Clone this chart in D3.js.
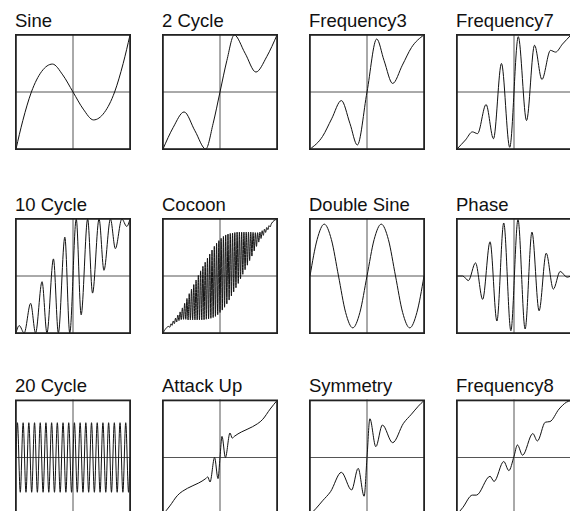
<!DOCTYPE html>
<html>
<head>
<meta charset="utf-8">
<script src="https://cdn.jsdelivr.net/npm/d3@7/dist/d3.min.js"></script>
<style>
  body { margin: 0; background: #fff; }
</style>
</head>
<body>
<div id="chart"></div>
<script>
// Panel titles, in reading order (3 rows of 4).
let titles = ["Sine", "2 Cycle", "Frequency3", "Frequency7",
              "10 Cycle", "Cocoon", "Double Sine", "Phase",
              "20 Cycle", "Attack Up", "Symmetry", "Frequency8"];

// Transfer curves: input x and output y, both -1..1.
let sineX = [-1, -0.88, -0.73, -0.55, -0.36, -0.18, 0, 0.18, 0.36, 0.55, 0.73, 0.88, 1];
let sineY = [-1, -0.5, 0, 0.36, 0.49, 0.3, 0, -0.3, -0.49, -0.36, 0, 0.5, 1];

let twoCycleX = [-1, -0.82, -0.63, -0.44, -0.25, -0.12, 0, 0.12, 0.25, 0.44, 0.63, 0.82, 1];
let twoCycleY = [-1, -0.62, -0.35, -0.68, -1, -0.55, 0, 0.55, 1, 0.68, 0.35, 0.62, 1];

let freq3X = [-1, -0.78, -0.62, -0.45, -0.3, -0.17, 0, 0.17, 0.3, 0.45, 0.62, 0.78, 1];
let freq3Y = [-1, -0.78, -0.47, -0.15, -0.55, -0.93, 0, 0.93, 0.55, 0.15, 0.47, 0.78, 1];

let freq7X = [-1, -0.85, -0.73, -0.64, -0.49, -0.36, -0.22, -0.075, 0.075, 0.22, 0.36, 0.49, 0.64, 0.73, 0.85, 1];
let freq7Y = [-1, -0.84, -0.7, -0.73, -0.22, -0.82, 0.5, -0.97, 0.97, -0.5, 0.82, 0.22, 0.73, 0.7, 0.84, 1];

let tenCycleX = [-1, -0.943, -0.857, -0.743, -0.657, -0.543, -0.457, -0.343, -0.257, -0.143, -0.057,
                 0.057, 0.143, 0.257, 0.343, 0.457, 0.543, 0.657, 0.743, 0.857, 0.943, 1];
let tenCycleY = [-1, -0.87, -1, -0.48, -1, -0.1, -1, 0.3, -1, 0.68, -1,
                 1, -0.68, 1, -0.3, 1, 0.1, 1, 0.48, 1, 0.87, 1];

// Cocoon: alternating upper and lower turning points of the dense ripple.
let cocoonX = [-1,
  -0.9, -0.88, -0.86, -0.84, -0.82, -0.8, -0.78, -0.76, -0.74, -0.72,
  -0.7, -0.68, -0.66, -0.64, -0.62, -0.6, -0.58, -0.56, -0.54, -0.52,
  -0.5, -0.48, -0.46, -0.44, -0.42, -0.4, -0.38, -0.36, -0.34, -0.32,
  -0.3, -0.28, -0.26, -0.24, -0.22, -0.2, -0.18, -0.16, -0.14, -0.12,
  -0.1, -0.08, -0.06, -0.04, -0.02, 0, 0.02, 0.04, 0.06, 0.08,
  0.1, 0.12, 0.14, 0.16, 0.18, 0.2, 0.22, 0.24, 0.26, 0.28,
  0.3, 0.32, 0.34, 0.36, 0.38, 0.4, 0.42, 0.44, 0.46, 0.48,
  0.5, 0.52, 0.54, 0.56, 0.58, 0.6, 0.62, 0.64, 0.66, 0.68,
  0.7, 0.72, 0.74, 0.76, 0.78, 0.8, 0.82, 0.84, 0.86, 0.88,
  0.9,
  1];
let cocoonY = [-1,
  -0.885, -0.899, -0.837, -0.867, -0.789, -0.835, -0.739, -0.807, -0.686, -0.782,
  -0.63, -0.765, -0.56, -0.76, -0.48, -0.76, -0.395, -0.77, -0.31, -0.77,
  -0.23, -0.77, -0.15, -0.77, -0.07, -0.77, 0.01, -0.77, 0.09, -0.77,
  0.17, -0.766, 0.242, -0.758, 0.314, -0.75, 0.386, -0.742, 0.456, -0.728,
  0.52, -0.708, 0.574, -0.678, 0.62, -0.64, 0.66, -0.598, 0.694, -0.548,
  0.72, -0.488, 0.736, -0.422, 0.746, -0.35, 0.754, -0.278, 0.762, -0.206,
  0.77, -0.13, 0.77, -0.05, 0.77, 0.03, 0.77, 0.11, 0.77, 0.19,
  0.77, 0.27, 0.77, 0.35, 0.765, 0.44, 0.76, 0.52, 0.76, 0.595,
  0.77, 0.658, 0.794, 0.713, 0.821, 0.765, 0.851, 0.813, 0.883, 0.861,
  0.915,
  1];

let doubleSineX = [-1, -0.875, -0.75, -0.625, -0.5, -0.375, -0.25, -0.125, 0, 0.125, 0.25, 0.375, 0.5, 0.625, 0.75, 0.875, 1];
let doubleSineY = [0, 0.64, 0.91, 0.64, 0, -0.64, -0.91, -0.64, 0, 0.64, 0.91, 0.64, 0, -0.64, -0.91, -0.64, 0];

let phaseX = [-1, -0.9, -0.8, -0.675, -0.55, -0.42, -0.3, -0.18, -0.055, 0.07, 0.195, 0.315, 0.44, 0.565, 0.69, 0.81, 0.93, 1];
let phaseY = [0, 0, -0.08, 0.23, -0.41, 0.6, -0.79, 0.93, -0.96, 0.99, -0.93, 0.77, -0.61, 0.4, -0.23, 0.08, -0.02, 0];

let twentyCycleX = [-1,
  -0.975, -0.925, -0.875, -0.825, -0.775, -0.725, -0.675, -0.625, -0.575, -0.525,
  -0.475, -0.425, -0.375, -0.325, -0.275, -0.225, -0.175, -0.125, -0.075, -0.025,
  0.025, 0.075, 0.125, 0.175, 0.225, 0.275, 0.325, 0.375, 0.425, 0.475,
  0.525, 0.575, 0.625, 0.675, 0.725, 0.775, 0.825, 0.875, 0.925, 0.975,
  1];
let twentyCycleY = [0,
  0.61, -0.61, 0.61, -0.61, 0.61, -0.61, 0.61, -0.61, 0.61, -0.61,
  0.61, -0.61, 0.61, -0.61, 0.61, -0.61, 0.61, -0.61, 0.61, -0.61,
  0.61, -0.61, 0.61, -0.61, 0.61, -0.61, 0.61, -0.61, 0.61, -0.61,
  0.61, -0.61, 0.61, -0.61, 0.61, -0.61, 0.61, -0.61, 0.61, -0.61,
  0];

let attackUpX = [-1, -0.88, -0.75, -0.57, -0.38, -0.25, -0.215, -0.175, -0.095, -0.035, 0,
                 0.035, 0.095, 0.175, 0.215, 0.25, 0.38, 0.57, 0.75, 0.88, 1];
let attackUpY = [-1, -0.85, -0.67, -0.54, -0.45, -0.37, -0.34, -0.43, 0, -0.37, 0,
                 0.37, 0, 0.43, 0.34, 0.37, 0.45, 0.54, 0.67, 0.85, 1];

let symmetryX = [-1, -0.9, -0.78, -0.64, -0.45, -0.27, -0.155, -0.05, 0, 0.05, 0.155, 0.27, 0.45, 0.64, 0.78, 0.9, 1];
let symmetryY = [-1, -0.9, -0.76, -0.6, -0.26, -0.57, -0.19, -0.68, 0, 0.68, 0.19, 0.57, 0.26, 0.6, 0.76, 0.9, 1];

let freq8X = [-1, -0.9, -0.73, -0.66, -0.42, -0.35, -0.18, -0.09, 0, 0.06, 0.15, 0.33, 0.41, 0.55, 0.63, 0.79, 0.92, 1];
let freq8Y = [-1, -0.88, -0.66, -0.66, -0.33, -0.42, -0.07, -0.23, 0.02, 0.22, 0.04, 0.42, 0.29, 0.62, 0.63, 0.85, 0.97, 1];

// Pair the arrays with their titles.
let curves = [
  [sineX, sineY], [twoCycleX, twoCycleY], [freq3X, freq3Y], [freq7X, freq7Y],
  [tenCycleX, tenCycleY], [cocoonX, cocoonY], [doubleSineX, doubleSineY], [phaseX, phaseY],
  [twentyCycleX, twentyCycleY], [attackUpX, attackUpY], [symmetryX, symmetryY], [freq8X, freq8Y]
];

// Layout of the grid.
let width = 570;
let height = 511;
let colLeft = [15, 162, 309, 456];
let rowTop = [34, 218, 399.5];
let boxSize = 116;

let svg = d3.select("#chart")
  .append("svg")
    .attr("width", width)
    .attr("height", height);

titles.forEach(function(title, i) {
  let left = colLeft[i % 4];
  let top = rowTop[Math.floor(i / 4)];

  let x = d3.scaleLinear().domain([-1, 1]).range([left + 1, left + boxSize - 1]);
  let y = d3.scaleLinear().domain([-1, 1]).range([top + boxSize - 1, top + 1]);

  let g = svg.append("g");

  // Title above the box.
  g.append("text")
    .attr("x", left)
    .attr("y", top - 7.5)
    .attr("font-family", "'Liberation Sans', Arial, Helvetica, sans-serif")
    .attr("font-size", "18.5px")
    .attr("fill", "#111")
    .text(title);

  // Crosshair through the centre.
  g.append("line")
    .attr("x1", x(0)).attr("x2", x(0))
    .attr("y1", top).attr("y2", top + boxSize)
    .attr("stroke", "#555").attr("stroke-width", 1);
  g.append("line")
    .attr("x1", left).attr("x2", left + boxSize)
    .attr("y1", y(0)).attr("y2", y(0))
    .attr("stroke", "#555").attr("stroke-width", 1);

  // The curve itself.
  let line = d3.line()
    .x(d => x(d[0]))
    .y(d => y(d[1]))
    .curve(d3.curveMonotoneX);
  g.append("path")
    .datum(d3.zip(curves[i][0], curves[i][1]))
    .attr("d", line)
    .attr("fill", "none")
    .attr("stroke", "#111")
    .attr("stroke-width", 1);

  // Box frame.
  g.append("rect")
    .attr("x", left + 0.9)
    .attr("y", top + 0.9)
    .attr("width", boxSize - 1.8)
    .attr("height", boxSize - 1.8)
    .attr("fill", "none")
    .attr("stroke", "#222")
    .attr("stroke-width", 1.8);
});
</script>
</body>
</html>
